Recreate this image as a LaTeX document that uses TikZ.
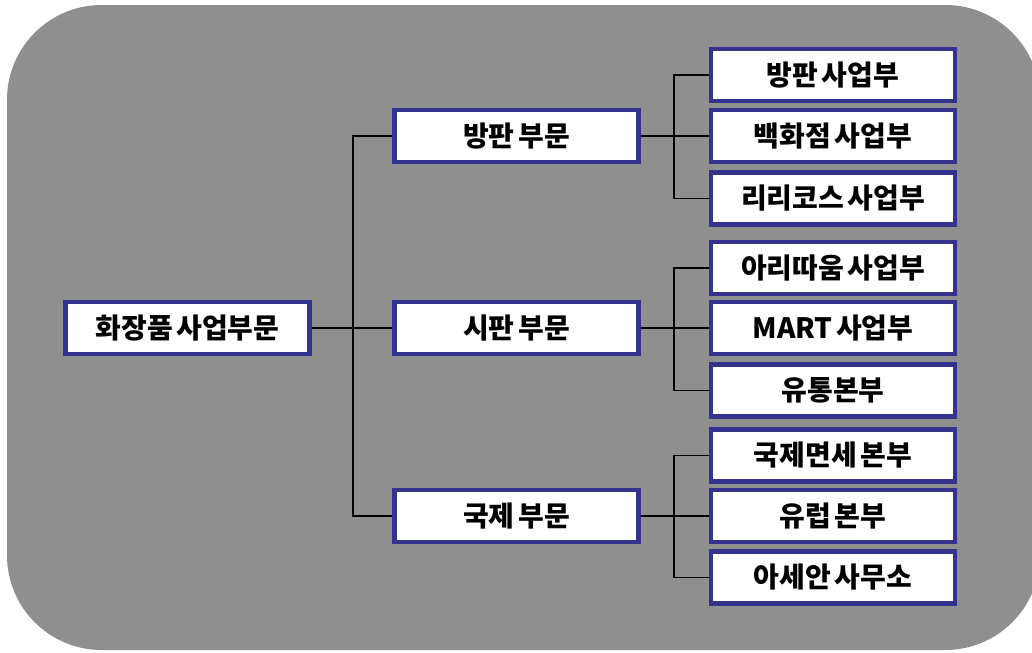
\documentclass[tikz,border=0pt]{standalone}
\usepackage{fontspec}
\newfontfamily\kofont{Noto Sans CJK KR}[WordSpace=0.55]
\usepackage{xcolor}
\definecolor{bggray}{RGB}{143,143,143}
\definecolor{boxblue}{RGB}{52,50,140}

\begin{document}
\begin{tikzpicture}[x=0.75pt, y=-0.75pt,
    unitbox/.style={draw=boxblue, line width=3.2pt, fill=white, inner sep=0pt,
        minimum height=39pt, minimum width=183pt,
        font=\kofont\bfseries\fontsize{21}{23}\selectfont},
    link/.style={line width=1.4pt, black},
    stub/.style={line width=2.2pt, black}]
    % Page and grey panel
    \useasboundingbox (0,0) rectangle (1032,653);
    \fill[white] (0,0) rectangle (1032,653);
    \fill[bggray, rounded corners=71pt] (7,5) rectangle (1040,650);

    % Top unit
    \node[unitbox] (cosmetics) at (187.5,328) {화장품 사업부문};

    % Divisions
    \node[unitbox] (doorSales) at (516.5,136) {방판 부문};
    \node[unitbox] (retail) at (516.5,328) {시판 부문};
    \node[unitbox] (global) at (516.5,516) {국제 부문};

    % Business units under 방판
    \node[unitbox] (doorBiz) at (833,75) {방판 사업부};
    \node[unitbox] (deptStore) at (833,136) {백화점 사업부};
    \node[unitbox] (lirikos) at (833,198.5) {리리코스 사업부};

    % Business units under 시판
    \node[unitbox] (aritaum) at (833,268) {아리따움 사업부};
    \node[unitbox] (mart) at (833,328) {MART 사업부};
    \node[unitbox] (distrib) at (833,390.5) {유통본부};

    % Business units under 국제
    \node[unitbox] (dutyFree) at (833,455.5) {국제면세 본부};
    \node[unitbox] (europe) at (833,516) {유럽 본부};
    \node[unitbox] (asean) at (833,577.5) {아세안 사무소};

    % Trunk from the top unit
    \coordinate (trunk) at (353,328);
    \draw[link] (cosmetics.east) -- (retail.west);
    \draw[link] (doorSales.west) -| (trunk) |- (global.west);

    % Branches to the business units
    \coordinate (doorFork) at (674,136);
    \coordinate (retailFork) at (674,328);
    \coordinate (globalFork) at (674,516);
    \draw[stub] (doorSales.east) -- (doorFork);
    \draw[link] (doorFork) -- (deptStore.west);
    \draw[link] (doorBiz.west) -| (doorFork) |- (lirikos.west);
    \draw[stub] (retail.east) -- (retailFork);
    \draw[link] (retailFork) -- (mart.west);
    \draw[link] (aritaum.west) -| (retailFork) |- (distrib.west);
    \draw[stub] (global.east) -- (globalFork);
    \draw[link] (globalFork) -- (europe.west);
    \draw[link] (dutyFree.west) -| (globalFork) |- (asean.west);
\end{tikzpicture}
\end{document}
